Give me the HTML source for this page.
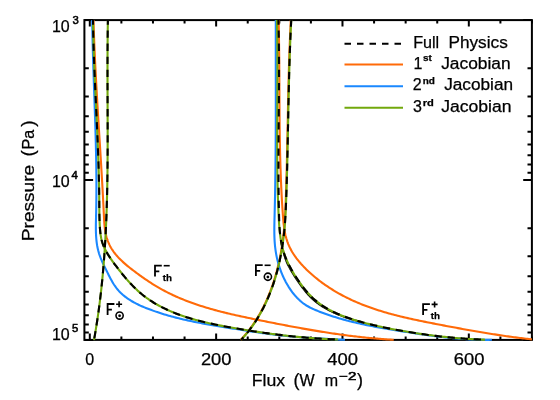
<!DOCTYPE html><html><head><meta charset="utf-8"><style>html,body{margin:0;padding:0;background:#fff}</style></head><body><svg width="560" height="400" viewBox="0 0 560 400" style="display:block;will-change:transform">
<rect width="560" height="400" fill="#fff"/>
<defs><clipPath id="c"><rect x="83.4" y="19.1" width="449.5" height="321.8"/></clipPath></defs>
<path d="M89.80,339.90v-6.5M89.80,20.10v6.5M121.38,339.90v-3.3M121.38,20.10v3.3M152.97,339.90v-3.3M152.97,20.10v3.3M184.56,339.90v-3.3M184.56,20.10v3.3M216.14,339.90v-6.5M216.14,20.10v6.5M247.73,339.90v-3.3M247.73,20.10v3.3M279.31,339.90v-3.3M279.31,20.10v3.3M310.90,339.90v-3.3M310.90,20.10v3.3M342.48,339.90v-6.5M342.48,20.10v6.5M374.07,339.90v-3.3M374.07,20.10v3.3M405.65,339.90v-3.3M405.65,20.10v3.3M437.24,339.90v-3.3M437.24,20.10v3.3M468.82,339.90v-6.5M468.82,20.10v6.5M500.41,339.90v-3.3M500.41,20.10v3.3M531.99,339.90v-3.3M531.99,20.10v3.3M84.40,20.10h8.7M531.90,20.10h-8.7M84.40,68.23h4.4M531.90,68.23h-4.4M84.40,96.39h4.4M531.90,96.39h-4.4M84.40,116.37h4.4M531.90,116.37h-4.4M84.40,131.87h4.4M531.90,131.87h-4.4M84.40,144.53h4.4M531.90,144.53h-4.4M84.40,155.23h4.4M531.90,155.23h-4.4M84.40,164.50h4.4M531.90,164.50h-4.4M84.40,172.68h4.4M531.90,172.68h-4.4M84.40,180.00h8.7M531.90,180.00h-8.7M84.40,228.13h4.4M531.90,228.13h-4.4M84.40,256.29h4.4M531.90,256.29h-4.4M84.40,276.27h4.4M531.90,276.27h-4.4M84.40,291.77h4.4M531.90,291.77h-4.4M84.40,304.43h4.4M531.90,304.43h-4.4M84.40,315.13h4.4M531.90,315.13h-4.4M84.40,324.40h4.4M531.90,324.40h-4.4M84.40,332.58h4.4M531.90,332.58h-4.4M84.40,339.90h8.7M531.90,339.90h-8.7" stroke="#000" stroke-width="2" fill="none"/>
<rect x="84.4" y="20.1" width="447.5" height="319.8" fill="none" stroke="#000" stroke-width="2"/>
<g clip-path="url(#c)" fill="none" stroke-width="2.1" stroke-linejoin="round">
<path d="M93.50,20.00 L93.54,21.50 L93.59,23.01 L93.63,24.51 L93.68,26.02 L93.73,27.52 L93.77,29.02 L93.82,30.52 L93.87,32.02 L93.93,33.53 L93.98,35.03 L94.03,36.53 L94.09,38.03 L94.15,39.53 L94.20,41.02 L94.26,42.52 L94.32,44.02 L94.38,45.52 L94.45,47.01 L94.51,48.51 L94.57,50.01 L94.64,51.50 L94.70,53.00 L94.77,54.50 L94.84,55.99 L94.90,57.48 L94.97,58.98 L95.04,60.47 L95.12,61.97 L95.19,63.46 L95.26,64.95 L95.33,66.45 L95.41,67.94 L95.48,69.43 L95.56,70.92 L95.64,72.42 L95.71,73.91 L95.79,75.40 L95.87,76.89 L95.95,78.38 L96.03,79.87 L96.11,81.36 L96.19,82.85 L96.27,84.34 L96.35,85.83 L96.44,87.32 L96.52,88.81 L96.61,90.30 L96.69,91.79 L96.77,93.28 L96.86,94.77 L96.95,96.26 L97.03,97.75 L97.12,99.24 L97.21,100.73 L97.30,102.22 L97.38,103.71 L97.47,105.20 L97.56,106.68 L97.65,108.17 L97.74,109.66 L97.83,111.15 L97.92,112.64 L98.01,114.13 L98.10,115.62 L98.19,117.11 L98.28,118.59 L98.37,120.08 L98.47,121.57 L98.56,123.06 L98.65,124.55 L98.74,126.04 L98.83,127.53 L98.93,129.02 L99.02,130.51 L99.11,132.00 L99.20,133.49 L99.30,134.98 L99.39,136.47 L99.48,137.96 L99.58,139.45 L99.67,140.94 L99.76,142.43 L99.85,143.92 L99.95,145.41 L100.04,146.90 L100.13,148.39 L100.22,149.88 L100.32,151.38 L100.41,152.87 L100.50,154.36 L100.59,155.85 L100.68,157.35 L100.77,158.84 L100.86,160.33 L100.95,161.83 L101.05,163.32 L101.14,164.81 L101.23,166.31 L101.31,167.80 L101.40,169.30 L101.49,170.79 L101.58,172.29 L101.67,173.79 L101.76,175.28 L101.85,176.78 L101.93,178.28 L102.02,179.77 L102.10,181.27 L102.19,182.77 L102.28,184.27 L102.36,185.77 L102.44,187.27 L102.53,188.77 L102.61,190.27 L102.69,191.77 L102.77,193.27 L102.86,194.78 L102.94,196.28 L103.02,197.78 L103.10,199.29 L103.17,200.79 L103.25,202.29 L103.33,203.80 L103.41,205.31 L103.48,206.81 L103.56,208.32 L103.63,209.83 L103.70,211.33 L103.78,212.84 L103.85,214.35 L103.92,215.86 L103.99,217.37 L104.07,218.88 L104.15,220.39 L104.24,221.89 L104.35,223.40 L104.47,224.89 L104.61,226.39 L104.78,227.87 L104.97,229.35 L105.19,230.83 L105.44,232.29 L105.73,233.75 L106.05,235.19 L106.42,236.62 L106.83,238.04 L107.28,239.45 L107.77,240.84 L108.31,242.21 L108.88,243.56 L109.50,244.89 L110.16,246.19 L110.86,247.47 L111.61,248.72 L112.39,249.95 L113.21,251.16 L114.06,252.34 L114.95,253.50 L115.87,254.65 L116.83,255.77 L117.81,256.87 L118.82,257.96 L119.85,259.02 L120.91,260.07 L121.99,261.11 L123.09,262.13 L124.21,263.14 L125.35,264.13 L126.50,265.11 L127.67,266.08 L128.85,267.04 L130.04,267.98 L131.24,268.92 L132.45,269.85 L133.66,270.78 L134.88,271.69 L136.10,272.60 L137.32,273.50 L138.55,274.40 L139.78,275.29 L141.01,276.17 L142.25,277.05 L143.48,277.92 L144.73,278.78 L145.97,279.63 L147.22,280.47 L148.47,281.31 L149.73,282.13 L150.99,282.95 L152.25,283.76 L153.52,284.55 L154.80,285.34 L156.08,286.12 L157.36,286.88 L158.65,287.63 L159.94,288.38 L161.24,289.11 L162.55,289.83 L163.86,290.53 L165.17,291.23 L166.49,291.92 L167.82,292.59 L169.14,293.25 L170.48,293.91 L171.82,294.55 L173.16,295.18 L174.51,295.81 L175.86,296.42 L177.22,297.02 L178.58,297.61 L179.95,298.20 L181.31,298.77 L182.69,299.33 L184.07,299.89 L185.45,300.44 L186.83,300.97 L188.22,301.50 L189.61,302.02 L191.01,302.54 L192.41,303.04 L193.81,303.54 L195.22,304.02 L196.63,304.51 L198.04,304.98 L199.46,305.44 L200.88,305.90 L202.30,306.35 L203.72,306.80 L205.15,307.24 L206.58,307.67 L208.01,308.09 L209.45,308.51 L210.88,308.93 L212.32,309.33 L213.77,309.73 L215.21,310.13 L216.66,310.52 L218.11,310.90 L219.56,311.28 L221.01,311.66 L222.46,312.03 L223.92,312.39 L225.38,312.75 L226.84,313.11 L228.30,313.46 L229.76,313.81 L231.22,314.15 L232.69,314.49 L234.15,314.83 L235.62,315.16 L237.09,315.49 L238.56,315.81 L240.03,316.14 L241.50,316.46 L242.97,316.78 L244.44,317.09 L245.91,317.40 L247.38,317.71 L248.86,318.02 L250.33,318.33 L251.80,318.64 L253.28,318.94 L254.75,319.24 L256.22,319.54 L257.70,319.84 L259.17,320.14 L260.64,320.44 L262.12,320.74 L263.59,321.03 L265.06,321.33 L266.53,321.62 L268.00,321.92 L269.48,322.21 L270.95,322.50 L272.42,322.79 L273.89,323.08 L275.36,323.37 L276.83,323.66 L278.30,323.95 L279.77,324.23 L281.24,324.52 L282.71,324.80 L284.18,325.08 L285.65,325.36 L287.12,325.64 L288.59,325.92 L290.06,326.20 L291.53,326.47 L292.99,326.75 L294.46,327.02 L295.93,327.29 L297.40,327.56 L298.87,327.83 L300.34,328.09 L301.81,328.35 L303.28,328.62 L304.75,328.88 L306.22,329.14 L307.69,329.39 L309.16,329.65 L310.63,329.90 L312.10,330.15 L313.57,330.40 L315.05,330.65 L316.52,330.89 L317.99,331.13 L319.46,331.37 L320.93,331.61 L322.41,331.85 L323.88,332.08 L325.35,332.31 L326.83,332.54 L328.30,332.77 L329.77,332.99 L331.25,333.21 L332.72,333.43 L334.20,333.65 L335.68,333.86 L337.15,334.07 L338.63,334.28 L340.11,334.49 L341.58,334.69 L343.06,334.89 L344.54,335.09 L346.02,335.28 L347.50,335.48 L348.98,335.67 L350.46,335.85 L351.95,336.03 L353.43,336.22 L354.91,336.39 L356.40,336.57 L357.88,336.74 L359.37,336.90 L360.85,337.07 L362.34,337.23 L363.83,337.39 L365.31,337.54 L366.80,337.69 L368.29,337.84 L369.78,337.99 L371.27,338.13 L372.77,338.26 L374.26,338.40 L375.75,338.53 L377.25,338.66 L378.74,338.78 L380.24,338.90 L381.74,339.01 L383.23,339.13 L384.73,339.23 L386.23,339.34 L387.74,339.44 L389.24,339.54 L390.74,339.63 L392.25,339.72 L393.75,339.80" stroke="#ff6a08"/>
<path d="M278.60,20.00 L278.64,21.50 L278.67,23.01 L278.70,24.51 L278.74,26.01 L278.77,27.52 L278.80,29.02 L278.83,30.52 L278.85,32.02 L278.88,33.53 L278.91,35.03 L278.93,36.53 L278.95,38.03 L278.98,39.53 L279.00,41.03 L279.02,42.53 L279.04,44.03 L279.06,45.53 L279.08,47.03 L279.10,48.53 L279.11,50.03 L279.13,51.53 L279.14,53.03 L279.16,54.53 L279.17,56.03 L279.19,57.53 L279.20,59.03 L279.21,60.53 L279.23,62.03 L279.24,63.52 L279.25,65.02 L279.26,66.52 L279.27,68.02 L279.28,69.52 L279.29,71.01 L279.30,72.51 L279.31,74.01 L279.32,75.51 L279.32,77.00 L279.33,78.50 L279.34,80.00 L279.35,81.50 L279.36,82.99 L279.37,84.49 L279.37,85.99 L279.38,87.48 L279.39,88.98 L279.40,90.48 L279.40,91.97 L279.41,93.47 L279.42,94.97 L279.43,96.46 L279.44,97.96 L279.44,99.46 L279.45,100.95 L279.46,102.45 L279.47,103.95 L279.48,105.44 L279.49,106.94 L279.50,108.43 L279.51,109.93 L279.52,111.43 L279.53,112.92 L279.54,114.42 L279.56,115.92 L279.57,117.41 L279.58,118.91 L279.60,120.41 L279.61,121.90 L279.63,123.40 L279.64,124.90 L279.66,126.39 L279.68,127.89 L279.69,129.39 L279.71,130.88 L279.73,132.38 L279.75,133.88 L279.77,135.37 L279.80,136.87 L279.82,138.37 L279.84,139.86 L279.87,141.36 L279.89,142.86 L279.92,144.36 L279.95,145.85 L279.98,147.35 L280.01,148.85 L280.04,150.35 L280.07,151.84 L280.11,153.34 L280.14,154.84 L280.18,156.34 L280.22,157.84 L280.26,159.34 L280.30,160.83 L280.34,162.33 L280.38,163.83 L280.42,165.33 L280.47,166.83 L280.52,168.33 L280.57,169.83 L280.62,171.33 L280.67,172.83 L280.72,174.33 L280.78,175.83 L280.83,177.33 L280.89,178.83 L280.95,180.33 L281.02,181.83 L281.08,183.33 L281.14,184.83 L281.21,186.34 L281.28,187.84 L281.35,189.34 L281.43,190.84 L281.50,192.34 L281.58,193.85 L281.66,195.35 L281.74,196.85 L281.82,198.36 L281.90,199.86 L281.99,201.36 L282.08,202.87 L282.17,204.37 L282.27,205.88 L282.36,207.38 L282.46,208.89 L282.56,210.39 L282.66,211.90 L282.77,213.41 L282.87,214.91 L282.98,216.42 L283.10,217.92 L283.22,219.43 L283.35,220.93 L283.49,222.43 L283.64,223.93 L283.81,225.42 L283.99,226.91 L284.20,228.39 L284.42,229.86 L284.67,231.33 L284.95,232.79 L285.25,234.24 L285.58,235.67 L285.95,237.10 L286.35,238.52 L286.78,239.92 L287.24,241.31 L287.74,242.69 L288.27,244.06 L288.84,245.41 L289.45,246.75 L290.09,248.07 L290.76,249.37 L291.47,250.66 L292.21,251.94 L292.98,253.20 L293.78,254.45 L294.60,255.68 L295.46,256.90 L296.34,258.11 L297.25,259.30 L298.18,260.47 L299.13,261.64 L300.11,262.78 L301.10,263.92 L302.12,265.04 L303.15,266.15 L304.20,267.25 L305.26,268.33 L306.34,269.40 L307.44,270.45 L308.54,271.50 L309.66,272.53 L310.78,273.54 L311.92,274.55 L313.07,275.54 L314.22,276.52 L315.39,277.49 L316.56,278.44 L317.74,279.38 L318.93,280.31 L320.13,281.23 L321.34,282.14 L322.56,283.03 L323.78,283.91 L325.01,284.78 L326.25,285.64 L327.50,286.48 L328.75,287.32 L330.01,288.14 L331.28,288.95 L332.56,289.75 L333.84,290.53 L335.12,291.31 L336.42,292.07 L337.72,292.82 L339.02,293.56 L340.34,294.29 L341.65,295.00 L342.97,295.71 L344.30,296.40 L345.63,297.08 L346.97,297.76 L348.31,298.42 L349.66,299.06 L351.01,299.70 L352.37,300.33 L353.73,300.94 L355.09,301.55 L356.46,302.15 L357.83,302.73 L359.20,303.31 L360.58,303.87 L361.97,304.43 L363.35,304.98 L364.74,305.51 L366.14,306.04 L367.54,306.56 L368.94,307.07 L370.34,307.57 L371.75,308.07 L373.16,308.55 L374.58,309.03 L375.99,309.50 L377.41,309.96 L378.84,310.41 L380.26,310.86 L381.69,311.30 L383.12,311.73 L384.56,312.15 L385.99,312.57 L387.43,312.98 L388.87,313.39 L390.32,313.79 L391.76,314.18 L393.21,314.57 L394.66,314.95 L396.11,315.32 L397.56,315.69 L399.02,316.06 L400.48,316.42 L401.94,316.77 L403.40,317.12 L404.86,317.47 L406.32,317.81 L407.79,318.14 L409.25,318.47 L410.72,318.80 L412.19,319.13 L413.66,319.45 L415.13,319.76 L416.60,320.08 L418.07,320.39 L419.54,320.70 L421.01,321.00 L422.49,321.30 L423.96,321.60 L425.44,321.90 L426.91,322.20 L428.39,322.49 L429.86,322.78 L431.34,323.07 L432.81,323.36 L434.29,323.65 L435.77,323.93 L437.24,324.22 L438.72,324.50 L440.19,324.79 L441.66,325.07 L443.14,325.35 L444.61,325.63 L446.09,325.91 L447.56,326.19 L449.03,326.47 L450.51,326.75 L451.98,327.02 L453.45,327.30 L454.93,327.57 L456.40,327.84 L457.87,328.12 L459.34,328.39 L460.82,328.65 L462.29,328.92 L463.76,329.19 L465.24,329.45 L466.71,329.72 L468.18,329.98 L469.66,330.24 L471.13,330.50 L472.60,330.76 L474.08,331.01 L475.55,331.27 L477.02,331.52 L478.50,331.77 L479.97,332.02 L481.45,332.27 L482.92,332.51 L484.40,332.76 L485.87,333.00 L487.35,333.24 L488.83,333.48 L490.30,333.71 L491.78,333.95 L493.26,334.18 L494.74,334.41 L496.22,334.64 L497.70,334.86 L499.18,335.09 L500.66,335.31 L502.14,335.53 L503.62,335.75 L505.10,335.96 L506.58,336.17 L508.07,336.38 L509.55,336.59 L511.03,336.80 L512.52,337.00 L514.01,337.20 L515.49,337.40 L516.98,337.59 L518.47,337.79 L519.96,337.98 L521.45,338.16 L522.94,338.35 L524.43,338.53 L525.92,338.71 L527.42,338.89 L528.91,339.06 L530.40,339.23 L531.90,339.40" stroke="#ff6a08"/>
<path d="M290.85,20.00 L290.77,21.49 L290.69,22.98 L290.62,24.47 L290.54,25.96 L290.47,27.46 L290.40,28.95 L290.33,30.44 L290.26,31.93 L290.19,33.42 L290.13,34.91 L290.06,36.41 L290.00,37.90 L289.93,39.39 L289.87,40.88 L289.81,42.38 L289.75,43.87 L289.70,45.36 L289.64,46.85 L289.58,48.35 L289.53,49.84 L289.47,51.33 L289.42,52.83 L289.37,54.32 L289.32,55.81 L289.27,57.31 L289.22,58.80 L289.17,60.29 L289.12,61.79 L289.08,63.28 L289.03,64.77 L288.99,66.27 L288.94,67.76 L288.90,69.25 L288.86,70.75 L288.81,72.24 L288.77,73.74 L288.73,75.23 L288.69,76.73 L288.66,78.22 L288.62,79.71 L288.58,81.21 L288.54,82.70 L288.51,84.20 L288.47,85.69 L288.43,87.19 L288.40,88.68 L288.37,90.18 L288.33,91.67 L288.30,93.17 L288.26,94.66 L288.23,96.15 L288.20,97.65 L288.17,99.14 L288.14,100.64 L288.11,102.13 L288.07,103.63 L288.04,105.12 L288.01,106.62 L287.98,108.11 L287.95,109.61 L287.92,111.10 L287.89,112.60 L287.86,114.09 L287.84,115.59 L287.81,117.08 L287.78,118.58 L287.75,120.07 L287.72,121.57 L287.69,123.06 L287.66,124.56 L287.63,126.05 L287.60,127.55 L287.58,129.04 L287.55,130.54 L287.52,132.03 L287.49,133.53 L287.46,135.02 L287.43,136.52 L287.40,138.01 L287.37,139.51 L287.34,141.00 L287.31,142.50 L287.28,143.99 L287.25,145.49 L287.22,146.98 L287.19,148.48 L287.15,149.97 L287.12,151.47 L287.09,152.96 L287.06,154.46 L287.02,155.95 L286.99,157.44 L286.96,158.94 L286.92,160.43 L286.89,161.93 L286.85,163.42 L286.81,164.92 L286.78,166.41 L286.74,167.90 L286.70,169.40 L286.66,170.89 L286.62,172.39 L286.58,173.88 L286.54,175.37 L286.50,176.87 L286.46,178.36 L286.42,179.85 L286.37,181.35 L286.33,182.84 L286.28,184.33 L286.24,185.83 L286.19,187.32 L286.14,188.81 L286.09,190.31 L286.04,191.80 L285.99,193.29 L285.94,194.78 L285.89,196.28 L285.83,197.77 L285.78,199.26 L285.72,200.75 L285.67,202.25 L285.61,203.74 L285.55,205.23 L285.49,206.72 L285.42,208.21 L285.35,209.70 L285.28,211.19 L285.21,212.68 L285.13,214.17 L285.05,215.66 L284.96,217.15 L284.87,218.64 L284.77,220.13 L284.67,221.62 L284.56,223.11 L284.45,224.59 L284.32,226.08 L284.20,227.57 L284.06,229.05 L283.92,230.54 L283.77,232.02 L283.61,233.50 L283.45,234.99 L283.28,236.47 L283.10,237.95 L282.91,239.43 L282.71,240.91 L282.51,242.39 L282.30,243.86 L282.08,245.34 L281.85,246.81 L281.62,248.29 L281.37,249.76 L281.12,251.23 L280.86,252.70 L280.59,254.17 L280.31,255.64 L280.02,257.10 L279.72,258.56 L279.42,260.03 L279.10,261.49 L278.78,262.95 L278.44,264.40 L278.10,265.86 L277.74,267.31 L277.38,268.77 L277.01,270.21 L276.63,271.66 L276.23,273.11 L275.83,274.55 L275.42,275.99 L275.00,277.43 L274.56,278.86 L274.12,280.29 L273.66,281.72 L273.20,283.14 L272.72,284.56 L272.24,285.97 L271.74,287.38 L271.23,288.79 L270.71,290.19 L270.18,291.59 L269.64,292.98 L269.09,294.37 L268.52,295.76 L267.95,297.13 L267.36,298.51 L266.76,299.87 L266.15,301.24 L265.53,302.59 L264.89,303.94 L264.24,305.29 L263.58,306.62 L262.91,307.95 L262.23,309.28 L261.53,310.59 L260.82,311.90 L260.10,313.21 L259.37,314.50 L258.62,315.79 L257.86,317.07 L257.09,318.35 L256.30,319.61 L255.50,320.87 L254.69,322.12 L253.87,323.36 L253.03,324.59 L252.17,325.81 L251.31,327.03 L250.43,328.23 L249.53,329.43 L248.63,330.61 L247.70,331.79 L246.77,332.96 L245.82,334.12 L244.85,335.26 L243.87,336.40 L242.88,337.53 L241.87,338.64 L240.85,339.75" stroke="#ff6a08"/>
<path d="M92.20,20.00 L92.22,21.50 L92.24,23.00 L92.26,24.50 L92.29,26.01 L92.31,27.51 L92.34,29.01 L92.37,30.51 L92.40,32.01 L92.43,33.51 L92.46,35.01 L92.49,36.51 L92.52,38.01 L92.56,39.51 L92.59,41.01 L92.63,42.51 L92.66,44.01 L92.70,45.51 L92.74,47.00 L92.78,48.50 L92.82,50.00 L92.86,51.50 L92.90,53.00 L92.95,54.50 L92.99,55.99 L93.03,57.49 L93.08,58.99 L93.12,60.49 L93.17,61.99 L93.22,63.48 L93.26,64.98 L93.31,66.48 L93.36,67.98 L93.41,69.47 L93.46,70.97 L93.51,72.47 L93.56,73.96 L93.61,75.46 L93.66,76.96 L93.71,78.45 L93.76,79.95 L93.81,81.45 L93.86,82.94 L93.91,84.44 L93.97,85.93 L94.02,87.43 L94.07,88.93 L94.12,90.42 L94.17,91.92 L94.23,93.42 L94.28,94.91 L94.33,96.41 L94.38,97.90 L94.44,99.40 L94.49,100.90 L94.54,102.39 L94.59,103.89 L94.64,105.38 L94.70,106.88 L94.75,108.37 L94.80,109.87 L94.85,111.37 L94.90,112.86 L94.95,114.36 L95.00,115.85 L95.05,117.35 L95.10,118.85 L95.15,120.34 L95.19,121.84 L95.24,123.33 L95.29,124.83 L95.33,126.33 L95.38,127.82 L95.42,129.32 L95.47,130.82 L95.51,132.31 L95.56,133.81 L95.60,135.30 L95.64,136.80 L95.68,138.30 L95.72,139.79 L95.76,141.29 L95.80,142.79 L95.84,144.29 L95.87,145.78 L95.91,147.28 L95.94,148.78 L95.98,150.27 L96.01,151.77 L96.04,153.27 L96.07,154.77 L96.10,156.26 L96.13,157.76 L96.16,159.26 L96.18,160.76 L96.21,162.26 L96.23,163.75 L96.25,165.25 L96.27,166.75 L96.29,168.25 L96.31,169.75 L96.33,171.25 L96.34,172.75 L96.36,174.25 L96.37,175.75 L96.38,177.25 L96.39,178.75 L96.40,180.25 L96.41,181.75 L96.41,183.25 L96.41,184.75 L96.42,186.25 L96.42,187.75 L96.41,189.25 L96.41,190.75 L96.41,192.25 L96.40,193.76 L96.39,195.26 L96.38,196.76 L96.37,198.26 L96.35,199.77 L96.34,201.27 L96.32,202.77 L96.30,204.28 L96.28,205.78 L96.25,207.28 L96.23,208.79 L96.20,210.29 L96.17,211.80 L96.14,213.30 L96.10,214.81 L96.06,216.31 L96.03,217.82 L95.99,219.32 L95.96,220.83 L95.92,222.33 L95.90,223.83 L95.88,225.33 L95.87,226.83 L95.87,228.33 L95.88,229.83 L95.91,231.32 L95.95,232.81 L96.01,234.29 L96.08,235.78 L96.18,237.26 L96.29,238.73 L96.43,240.20 L96.59,241.67 L96.78,243.13 L97.00,244.59 L97.24,246.04 L97.52,247.48 L97.83,248.92 L98.17,250.35 L98.55,251.78 L98.96,253.20 L99.41,254.61 L99.90,256.02 L100.42,257.42 L100.98,258.81 L101.56,260.20 L102.16,261.59 L102.79,262.97 L103.43,264.35 L104.09,265.73 L104.76,267.11 L105.44,268.49 L106.13,269.87 L106.81,271.26 L107.50,272.64 L108.19,274.02 L108.88,275.41 L109.58,276.78 L110.30,278.14 L111.02,279.50 L111.76,280.83 L112.52,282.15 L113.30,283.45 L114.11,284.72 L114.94,285.96 L115.80,287.17 L116.70,288.35 L117.63,289.50 L118.59,290.60 L119.58,291.68 L120.61,292.72 L121.67,293.72 L122.75,294.70 L123.87,295.65 L125.01,296.56 L126.17,297.45 L127.36,298.31 L128.57,299.14 L129.81,299.94 L131.06,300.73 L132.34,301.48 L133.63,302.22 L134.94,302.93 L136.26,303.62 L137.60,304.29 L138.95,304.94 L140.32,305.58 L141.69,306.19 L143.08,306.79 L144.47,307.38 L145.87,307.95 L147.28,308.51 L148.69,309.05 L150.11,309.59 L151.53,310.11 L152.95,310.62 L154.37,311.13 L155.79,311.62 L157.22,312.10 L158.65,312.58 L160.08,313.05 L161.51,313.50 L162.94,313.95 L164.38,314.39 L165.82,314.82 L167.26,315.24 L168.70,315.66 L170.14,316.06 L171.59,316.46 L173.03,316.85 L174.48,317.24 L175.93,317.61 L177.38,317.98 L178.83,318.35 L180.28,318.70 L181.74,319.05 L183.19,319.40 L184.65,319.73 L186.11,320.06 L187.57,320.39 L189.03,320.71 L190.49,321.02 L191.96,321.33 L193.42,321.64 L194.89,321.94 L196.35,322.23 L197.82,322.52 L199.29,322.81 L200.76,323.09 L202.23,323.37 L203.70,323.64 L205.17,323.91 L206.64,324.18 L208.12,324.44 L209.59,324.70 L211.06,324.96 L212.54,325.22 L214.02,325.47 L215.49,325.72 L216.97,325.96 L218.45,326.21 L219.93,326.45 L221.40,326.70 L222.88,326.94 L224.36,327.18 L225.84,327.41 L227.32,327.65 L228.80,327.89 L230.28,328.12 L231.76,328.36 L233.24,328.59 L234.72,328.83 L236.20,329.06 L237.68,329.30 L239.16,329.53 L240.65,329.76 L242.13,329.99 L243.61,330.23 L245.09,330.46 L246.57,330.68 L248.05,330.91 L249.54,331.14 L251.02,331.36 L252.50,331.59 L253.98,331.81 L255.47,332.03 L256.95,332.24 L258.44,332.46 L259.92,332.67 L261.40,332.88 L262.89,333.09 L264.37,333.30 L265.86,333.50 L267.34,333.70 L268.83,333.89 L270.32,334.09 L271.80,334.28 L273.29,334.47 L274.78,334.65 L276.26,334.83 L277.75,335.01 L279.24,335.18 L280.73,335.35 L282.22,335.52 L283.71,335.68 L285.20,335.83 L286.69,335.99 L288.18,336.13 L289.67,336.28 L291.16,336.42 L292.65,336.55 L294.14,336.69 L295.64,336.82 L297.13,336.94 L298.62,337.06 L300.12,337.18 L301.61,337.30 L303.10,337.41 L304.60,337.52 L306.09,337.63 L307.59,337.73 L309.08,337.83 L310.58,337.93 L312.07,338.03 L313.57,338.12 L315.07,338.21 L316.56,338.30 L318.06,338.39 L319.55,338.48 L321.05,338.56 L322.55,338.65 L324.04,338.73 L325.54,338.81 L327.04,338.89 L328.53,338.97 L330.03,339.05 L331.53,339.12 L333.02,339.20 L334.52,339.28 L336.02,339.35 L337.52,339.43 L339.01,339.50 L340.51,339.58 L342.01,339.65 L343.50,339.72 L345.00,339.80" stroke="#1a88ff"/>
<path d="M275.80,20.00 L275.80,21.49 L275.79,22.99 L275.79,24.48 L275.79,25.98 L275.78,27.47 L275.78,28.97 L275.78,30.46 L275.78,31.96 L275.78,33.46 L275.78,34.95 L275.77,36.45 L275.77,37.94 L275.77,39.44 L275.77,40.94 L275.77,42.43 L275.77,43.93 L275.77,45.43 L275.77,46.92 L275.77,48.42 L275.77,49.92 L275.77,51.41 L275.77,52.91 L275.77,54.41 L275.77,55.91 L275.78,57.40 L275.78,58.90 L275.78,60.40 L275.78,61.90 L275.78,63.40 L275.78,64.89 L275.78,66.39 L275.78,67.89 L275.78,69.39 L275.79,70.89 L275.79,72.39 L275.79,73.89 L275.79,75.38 L275.79,76.88 L275.79,78.38 L275.79,79.88 L275.79,81.38 L275.80,82.88 L275.80,84.38 L275.80,85.88 L275.80,87.38 L275.80,88.88 L275.80,90.38 L275.80,91.88 L275.80,93.38 L275.80,94.87 L275.80,96.37 L275.80,97.87 L275.80,99.37 L275.80,100.87 L275.80,102.37 L275.80,103.87 L275.80,105.37 L275.80,106.87 L275.79,108.37 L275.79,109.87 L275.79,111.37 L275.79,112.87 L275.79,114.37 L275.78,115.87 L275.78,117.37 L275.78,118.87 L275.78,120.37 L275.77,121.87 L275.77,123.37 L275.76,124.87 L275.76,126.37 L275.75,127.87 L275.75,129.37 L275.74,130.87 L275.74,132.37 L275.73,133.87 L275.72,135.37 L275.72,136.87 L275.71,138.37 L275.70,139.87 L275.69,141.37 L275.68,142.87 L275.68,144.37 L275.67,145.87 L275.66,147.36 L275.65,148.86 L275.63,150.36 L275.62,151.86 L275.61,153.36 L275.60,154.86 L275.59,156.36 L275.57,157.86 L275.56,159.36 L275.54,160.86 L275.53,162.35 L275.51,163.85 L275.50,165.35 L275.48,166.85 L275.46,168.35 L275.45,169.85 L275.43,171.34 L275.41,172.84 L275.39,174.34 L275.37,175.84 L275.35,177.34 L275.33,178.83 L275.31,180.33 L275.28,181.83 L275.26,183.33 L275.24,184.82 L275.21,186.32 L275.19,187.82 L275.16,189.31 L275.13,190.81 L275.11,192.31 L275.08,193.80 L275.05,195.30 L275.02,196.80 L274.99,198.29 L274.96,199.79 L274.93,201.28 L274.90,202.78 L274.86,204.28 L274.83,205.77 L274.79,207.27 L274.76,208.76 L274.72,210.26 L274.68,211.75 L274.65,213.25 L274.61,214.74 L274.57,216.23 L274.53,217.73 L274.49,219.22 L274.45,220.72 L274.42,222.21 L274.39,223.70 L274.36,225.19 L274.34,226.69 L274.33,228.18 L274.32,229.67 L274.32,231.16 L274.34,232.65 L274.36,234.14 L274.39,235.63 L274.44,237.11 L274.50,238.60 L274.57,240.09 L274.66,241.57 L274.77,243.06 L274.89,244.54 L275.03,246.03 L275.19,247.51 L275.37,248.99 L275.57,250.47 L275.79,251.95 L276.04,253.43 L276.31,254.90 L276.60,256.38 L276.91,257.85 L277.25,259.32 L277.61,260.78 L278.00,262.24 L278.40,263.70 L278.83,265.15 L279.28,266.59 L279.76,268.03 L280.26,269.46 L280.78,270.88 L281.32,272.29 L281.89,273.70 L282.48,275.09 L283.09,276.47 L283.73,277.84 L284.39,279.21 L285.07,280.55 L285.77,281.89 L286.50,283.21 L287.25,284.52 L288.02,285.82 L288.81,287.10 L289.63,288.36 L290.47,289.61 L291.33,290.84 L292.21,292.05 L293.12,293.24 L294.05,294.40 L295.01,295.55 L296.00,296.66 L297.01,297.75 L298.04,298.81 L299.11,299.84 L300.20,300.84 L301.32,301.80 L302.46,302.72 L303.64,303.61 L304.85,304.46 L306.09,305.26 L307.35,306.03 L308.65,306.75 L309.96,307.45 L311.30,308.11 L312.65,308.75 L314.02,309.36 L315.40,309.96 L316.79,310.54 L318.18,311.10 L319.58,311.65 L320.98,312.20 L322.38,312.73 L323.79,313.25 L325.20,313.77 L326.61,314.27 L328.02,314.77 L329.44,315.25 L330.86,315.73 L332.28,316.19 L333.71,316.65 L335.14,317.10 L336.57,317.55 L338.00,317.98 L339.44,318.40 L340.87,318.82 L342.31,319.23 L343.76,319.63 L345.20,320.03 L346.65,320.41 L348.09,320.79 L349.54,321.17 L351.00,321.53 L352.45,321.89 L353.91,322.25 L355.36,322.59 L356.82,322.94 L358.28,323.27 L359.74,323.60 L361.21,323.92 L362.67,324.24 L364.14,324.56 L365.61,324.86 L367.08,325.17 L368.55,325.46 L370.02,325.76 L371.49,326.05 L372.96,326.33 L374.44,326.61 L375.91,326.89 L377.39,327.16 L378.87,327.43 L380.34,327.70 L381.82,327.96 L383.30,328.22 L384.78,328.48 L386.26,328.73 L387.74,328.98 L389.22,329.23 L390.70,329.48 L392.19,329.72 L393.67,329.96 L395.15,330.20 L396.63,330.44 L398.11,330.68 L399.60,330.91 L401.08,331.15 L402.56,331.38 L404.04,331.62 L405.52,331.85 L407.00,332.08 L408.49,332.31 L409.97,332.54 L411.45,332.77 L412.93,332.99 L414.41,333.22 L415.89,333.44 L417.37,333.66 L418.85,333.88 L420.33,334.09 L421.81,334.31 L423.30,334.52 L424.78,334.73 L426.26,334.94 L427.74,335.14 L429.22,335.34 L430.70,335.54 L432.19,335.74 L433.67,335.93 L435.15,336.12 L436.63,336.31 L438.12,336.49 L439.60,336.67 L441.08,336.84 L442.57,337.02 L444.05,337.18 L445.54,337.35 L447.02,337.51 L448.51,337.66 L450.00,337.81 L451.48,337.96 L452.97,338.10 L454.46,338.24 L455.95,338.37 L457.44,338.50 L458.93,338.62 L460.42,338.74 L461.91,338.85 L463.40,338.96 L464.89,339.06 L466.39,339.15 L467.88,339.24 L469.37,339.33 L470.87,339.40 L472.37,339.48 L473.86,339.54 L475.36,339.60 L476.86,339.65 L478.36,339.70 L479.86,339.74 L481.36,339.77 L482.86,339.80 L484.37,339.81 L485.87,339.83 L487.38,339.83 L488.88,339.83 L490.39,339.82 L491.90,339.80" stroke="#1a88ff"/>
<path d="M93.00,20.00 L93.02,21.50 L93.04,23.00 L93.07,24.50 L93.09,26.00 L93.12,27.50 L93.15,29.00 L93.18,30.50 L93.21,32.00 L93.24,33.49 L93.28,34.99 L93.31,36.49 L93.35,37.99 L93.39,39.49 L93.43,40.99 L93.47,42.48 L93.52,43.98 L93.56,45.48 L93.60,46.98 L93.65,48.47 L93.70,49.97 L93.75,51.47 L93.80,52.96 L93.85,54.46 L93.90,55.96 L93.95,57.45 L94.01,58.95 L94.06,60.45 L94.12,61.94 L94.18,63.44 L94.24,64.93 L94.29,66.43 L94.35,67.92 L94.41,69.42 L94.47,70.92 L94.54,72.41 L94.60,73.91 L94.66,75.40 L94.73,76.90 L94.79,78.39 L94.85,79.89 L94.92,81.38 L94.99,82.88 L95.05,84.37 L95.12,85.87 L95.19,87.36 L95.25,88.86 L95.32,90.35 L95.39,91.85 L95.46,93.34 L95.53,94.84 L95.60,96.33 L95.67,97.82 L95.74,99.32 L95.81,100.81 L95.88,102.31 L95.95,103.80 L96.02,105.30 L96.09,106.79 L96.16,108.29 L96.23,109.78 L96.30,111.27 L96.37,112.77 L96.44,114.26 L96.51,115.76 L96.58,117.25 L96.65,118.75 L96.71,120.24 L96.78,121.74 L96.85,123.23 L96.92,124.72 L96.99,126.22 L97.05,127.71 L97.12,129.21 L97.19,130.70 L97.25,132.20 L97.32,133.69 L97.38,135.19 L97.45,136.68 L97.51,138.18 L97.58,139.67 L97.64,141.17 L97.70,142.66 L97.76,144.16 L97.82,145.65 L97.88,147.15 L97.94,148.65 L98.00,150.14 L98.06,151.64 L98.11,153.13 L98.17,154.63 L98.22,156.12 L98.27,157.62 L98.33,159.12 L98.38,160.61 L98.43,162.11 L98.48,163.61 L98.53,165.10 L98.57,166.60 L98.62,168.10 L98.66,169.59 L98.70,171.09 L98.75,172.59 L98.79,174.09 L98.83,175.58 L98.86,177.08 L98.90,178.58 L98.94,180.08 L98.97,181.58 L99.00,183.07 L99.03,184.57 L99.06,186.07 L99.09,187.57 L99.11,189.07 L99.14,190.57 L99.16,192.07 L99.18,193.57 L99.20,195.07 L99.22,196.57 L99.23,198.07 L99.24,199.57 L99.26,201.07 L99.27,202.57 L99.28,204.07 L99.29,205.57 L99.30,207.07 L99.31,208.57 L99.32,210.08 L99.34,211.58 L99.36,213.08 L99.39,214.58 L99.42,216.09 L99.46,217.59 L99.50,219.10 L99.55,220.60 L99.61,222.11 L99.68,223.61 L99.76,225.12 L99.84,226.62 L99.94,228.13 L100.06,229.64 L100.19,231.14 L100.34,232.64 L100.52,234.13 L100.73,235.61 L100.98,237.08 L101.27,238.54 L101.60,239.97 L101.98,241.39 L102.41,242.79 L102.89,244.17 L103.41,245.53 L103.97,246.88 L104.57,248.21 L105.21,249.53 L105.88,250.83 L106.58,252.12 L107.32,253.40 L108.08,254.67 L108.87,255.92 L109.68,257.17 L110.51,258.41 L111.36,259.64 L112.23,260.87 L113.11,262.08 L114.00,263.30 L114.91,264.51 L115.82,265.71 L116.74,266.92 L117.66,268.12 L118.58,269.32 L119.52,270.51 L120.45,271.70 L121.40,272.89 L122.35,274.07 L123.31,275.24 L124.27,276.40 L125.24,277.56 L126.23,278.71 L127.21,279.85 L128.21,280.98 L129.22,282.11 L130.24,283.22 L131.26,284.31 L132.30,285.40 L133.35,286.47 L134.41,287.53 L135.48,288.58 L136.57,289.61 L137.66,290.63 L138.77,291.62 L139.89,292.61 L141.03,293.57 L142.17,294.52 L143.34,295.45 L144.51,296.36 L145.70,297.25 L146.90,298.13 L148.12,298.98 L149.34,299.83 L150.58,300.65 L151.83,301.46 L153.09,302.25 L154.36,303.03 L155.64,303.79 L156.93,304.53 L158.23,305.26 L159.54,305.97 L160.86,306.67 L162.19,307.36 L163.53,308.03 L164.87,308.68 L166.22,309.32 L167.58,309.95 L168.94,310.56 L170.32,311.16 L171.70,311.75 L173.08,312.32 L174.47,312.88 L175.87,313.43 L177.27,313.97 L178.67,314.49 L180.08,315.01 L181.49,315.51 L182.91,316.00 L184.33,316.48 L185.75,316.94 L187.18,317.40 L188.61,317.85 L190.04,318.28 L191.47,318.71 L192.91,319.13 L194.35,319.53 L195.80,319.93 L197.24,320.32 L198.69,320.71 L200.14,321.08 L201.59,321.44 L203.05,321.80 L204.50,322.15 L205.96,322.50 L207.42,322.83 L208.88,323.16 L210.35,323.49 L211.81,323.80 L213.28,324.12 L214.75,324.42 L216.22,324.72 L217.69,325.02 L219.16,325.31 L220.63,325.60 L222.10,325.88 L223.58,326.16 L225.05,326.43 L226.53,326.71 L228.00,326.97 L229.48,327.24 L230.96,327.50 L232.43,327.77 L233.91,328.02 L235.39,328.28 L236.86,328.54 L238.34,328.79 L239.82,329.04 L241.30,329.29 L242.77,329.54 L244.25,329.78 L245.73,330.02 L247.21,330.26 L248.69,330.50 L250.17,330.73 L251.64,330.97 L253.12,331.20 L254.60,331.43 L256.08,331.65 L257.56,331.88 L259.04,332.10 L260.52,332.31 L262.00,332.53 L263.48,332.74 L264.97,332.95 L266.45,333.16 L267.93,333.37 L269.41,333.57 L270.89,333.77 L272.38,333.97 L273.86,334.16 L275.34,334.35 L276.83,334.54 L278.31,334.73 L279.79,334.91 L281.28,335.09 L282.76,335.27 L284.25,335.44 L285.73,335.61 L287.22,335.78 L288.71,335.95 L290.19,336.11 L291.68,336.27 L293.17,336.42 L294.65,336.58 L296.14,336.73 L297.63,336.87 L299.12,337.02 L300.61,337.16 L302.10,337.29 L303.59,337.42 L305.08,337.55 L306.57,337.68 L308.06,337.80 L309.56,337.92 L311.05,338.04 L312.54,338.15 L314.03,338.26 L315.53,338.37 L317.02,338.47 L318.52,338.57 L320.01,338.66 L321.51,338.75 L323.01,338.84 L324.50,338.92 L326.00,339.00 L327.50,339.08 L329.00,339.15 L330.50,339.22 L332.00,339.28 L333.50,339.34 L335.00,339.40 L336.50,339.45 L338.00,339.50" stroke="#72a80c"/>
<path d="M93.00,20.00 L93.02,21.50 L93.04,23.00 L93.07,24.50 L93.09,26.00 L93.12,27.50 L93.15,29.00 L93.18,30.50 L93.21,32.00 L93.24,33.49 L93.28,34.99 L93.31,36.49 L93.35,37.99 L93.39,39.49 L93.43,40.99 L93.47,42.48 L93.52,43.98 L93.56,45.48 L93.60,46.98 L93.65,48.47 L93.70,49.97 L93.75,51.47 L93.80,52.96 L93.85,54.46 L93.90,55.96 L93.95,57.45 L94.01,58.95 L94.06,60.45 L94.12,61.94 L94.18,63.44 L94.24,64.93 L94.29,66.43 L94.35,67.92 L94.41,69.42 L94.47,70.92 L94.54,72.41 L94.60,73.91 L94.66,75.40 L94.73,76.90 L94.79,78.39 L94.85,79.89 L94.92,81.38 L94.99,82.88 L95.05,84.37 L95.12,85.87 L95.19,87.36 L95.25,88.86 L95.32,90.35 L95.39,91.85 L95.46,93.34 L95.53,94.84 L95.60,96.33 L95.67,97.82 L95.74,99.32 L95.81,100.81 L95.88,102.31 L95.95,103.80 L96.02,105.30 L96.09,106.79 L96.16,108.29 L96.23,109.78 L96.30,111.27 L96.37,112.77 L96.44,114.26 L96.51,115.76 L96.58,117.25 L96.65,118.75 L96.71,120.24 L96.78,121.74 L96.85,123.23 L96.92,124.72 L96.99,126.22 L97.05,127.71 L97.12,129.21 L97.19,130.70 L97.25,132.20 L97.32,133.69 L97.38,135.19 L97.45,136.68 L97.51,138.18 L97.58,139.67 L97.64,141.17 L97.70,142.66 L97.76,144.16 L97.82,145.65 L97.88,147.15 L97.94,148.65 L98.00,150.14 L98.06,151.64 L98.11,153.13 L98.17,154.63 L98.22,156.12 L98.27,157.62 L98.33,159.12 L98.38,160.61 L98.43,162.11 L98.48,163.61 L98.53,165.10 L98.57,166.60 L98.62,168.10 L98.66,169.59 L98.70,171.09 L98.75,172.59 L98.79,174.09 L98.83,175.58 L98.86,177.08 L98.90,178.58 L98.94,180.08 L98.97,181.58 L99.00,183.07 L99.03,184.57 L99.06,186.07 L99.09,187.57 L99.11,189.07 L99.14,190.57 L99.16,192.07 L99.18,193.57 L99.20,195.07 L99.22,196.57 L99.23,198.07 L99.24,199.57 L99.26,201.07 L99.27,202.57 L99.28,204.07 L99.29,205.57 L99.30,207.07 L99.31,208.57 L99.32,210.08 L99.34,211.58 L99.36,213.08 L99.39,214.58 L99.42,216.09 L99.46,217.59 L99.50,219.10 L99.55,220.60 L99.61,222.11 L99.68,223.61 L99.76,225.12 L99.84,226.62 L99.94,228.13 L100.06,229.64 L100.19,231.14 L100.34,232.64 L100.52,234.13 L100.73,235.61 L100.98,237.08 L101.27,238.54 L101.60,239.97 L101.98,241.39 L102.41,242.79 L102.89,244.17 L103.41,245.53 L103.97,246.88 L104.57,248.21 L105.21,249.53 L105.88,250.83 L106.58,252.12 L107.32,253.40 L108.08,254.67 L108.87,255.92 L109.68,257.17 L110.51,258.41 L111.36,259.64 L112.23,260.87 L113.11,262.08 L114.00,263.30 L114.91,264.51 L115.82,265.71 L116.74,266.92 L117.66,268.12 L118.58,269.32 L119.52,270.51 L120.45,271.70 L121.40,272.89 L122.35,274.07 L123.31,275.24 L124.27,276.40 L125.24,277.56 L126.23,278.71 L127.21,279.85 L128.21,280.98 L129.22,282.11 L130.24,283.22 L131.26,284.31 L132.30,285.40 L133.35,286.47 L134.41,287.53 L135.48,288.58 L136.57,289.61 L137.66,290.63 L138.77,291.62 L139.89,292.61 L141.03,293.57 L142.17,294.52 L143.34,295.45 L144.51,296.36 L145.70,297.25 L146.90,298.13 L148.12,298.98 L149.34,299.83 L150.58,300.65 L151.83,301.46 L153.09,302.25 L154.36,303.03 L155.64,303.79 L156.93,304.53 L158.23,305.26 L159.54,305.97 L160.86,306.67 L162.19,307.36 L163.53,308.03 L164.87,308.68 L166.22,309.32 L167.58,309.95 L168.94,310.56 L170.32,311.16 L171.70,311.75 L173.08,312.32 L174.47,312.88 L175.87,313.43 L177.27,313.97 L178.67,314.49 L180.08,315.01 L181.49,315.51 L182.91,316.00 L184.33,316.48 L185.75,316.94 L187.18,317.40 L188.61,317.85 L190.04,318.28 L191.47,318.71 L192.91,319.13 L194.35,319.53 L195.80,319.93 L197.24,320.32 L198.69,320.71 L200.14,321.08 L201.59,321.44 L203.05,321.80 L204.50,322.15 L205.96,322.50 L207.42,322.83 L208.88,323.16 L210.35,323.49 L211.81,323.80 L213.28,324.12 L214.75,324.42 L216.22,324.72 L217.69,325.02 L219.16,325.31 L220.63,325.60 L222.10,325.88 L223.58,326.16 L225.05,326.43 L226.53,326.71 L228.00,326.97 L229.48,327.24 L230.96,327.50 L232.43,327.77 L233.91,328.02 L235.39,328.28 L236.86,328.54 L238.34,328.79 L239.82,329.04 L241.30,329.29 L242.77,329.54 L244.25,329.78 L245.73,330.02 L247.21,330.26 L248.69,330.50 L250.17,330.73 L251.64,330.97 L253.12,331.20 L254.60,331.43 L256.08,331.65 L257.56,331.88 L259.04,332.10 L260.52,332.31 L262.00,332.53 L263.48,332.74 L264.97,332.95 L266.45,333.16 L267.93,333.37 L269.41,333.57 L270.89,333.77 L272.38,333.97 L273.86,334.16 L275.34,334.35 L276.83,334.54 L278.31,334.73 L279.79,334.91 L281.28,335.09 L282.76,335.27 L284.25,335.44 L285.73,335.61 L287.22,335.78 L288.71,335.95 L290.19,336.11 L291.68,336.27 L293.17,336.42 L294.65,336.58 L296.14,336.73 L297.63,336.87 L299.12,337.02 L300.61,337.16 L302.10,337.29 L303.59,337.42 L305.08,337.55 L306.57,337.68 L308.06,337.80 L309.56,337.92 L311.05,338.04 L312.54,338.15 L314.03,338.26 L315.53,338.37 L317.02,338.47 L318.52,338.57 L320.01,338.66 L321.51,338.75 L323.01,338.84 L324.50,338.92 L326.00,339.00 L327.50,339.08 L329.00,339.15 L330.50,339.22 L332.00,339.28 L333.50,339.34 L335.00,339.40 L336.50,339.45 L338.00,339.50" stroke="#000" stroke-dasharray="7.3 5.8" stroke-dashoffset="2.6"/>
<path d="M282.66,248.79 L283.04,250.22 L283.37,251.67 L283.72,253.12 L284.11,254.56 L284.53,256.01 L284.98,257.44 L285.46,258.87 L285.97,260.30 L286.50,261.72 L287.11,263.12 L287.78,264.48 L288.47,265.84 L289.18,267.19 L289.91,268.53 L290.66,269.87 L291.43,271.19 L292.21,272.51 L293.00,273.81 L293.81,275.11 L294.63,276.40 L295.47,277.68 L296.31,278.96 L297.16,280.22 L298.02,281.47 L298.89,282.72 L299.76,283.96 L300.64,285.19 L301.53,286.40 L302.42,287.61 L303.33,288.81 L304.25,289.99 L305.19,291.16 L306.14,292.31 L307.12,293.45 L308.11,294.57 L309.12,295.67 L310.16,296.75 L311.22,297.80 L312.31,298.83 L313.42,299.84 L314.56,300.82 L315.72,301.78 L316.90,302.72 L318.09,303.63 L319.31,304.52 L320.54,305.38 L321.78,306.23 L323.05,307.03 L324.34,307.80 L325.65,308.54 L326.96,309.26 L328.29,309.96 L329.62,310.65 L330.97,311.31 L332.32,311.96 L333.68,312.59 L335.06,313.20 L336.44,313.80 L337.82,314.38 L339.22,314.94 L340.62,315.49 L342.03,316.02 L343.45,316.55 L344.87,317.05 L346.29,317.55 L347.73,318.03 L349.16,318.50 L350.60,318.95 L352.05,319.40 L353.50,319.83 L354.95,320.26 L356.40,320.67 L357.86,321.08 L359.31,321.48 L360.77,321.86 L362.23,322.26" stroke="#000" stroke-width="1.8"/>
<path d="M276.90,20.00 L276.94,21.50 L276.97,23.00 L277.00,24.50 L277.04,26.00 L277.07,27.50 L277.09,29.00 L277.12,30.50 L277.15,32.00 L277.17,33.49 L277.19,34.99 L277.22,36.49 L277.24,37.99 L277.26,39.49 L277.27,40.99 L277.29,42.49 L277.31,43.99 L277.32,45.48 L277.33,46.98 L277.35,48.48 L277.36,49.98 L277.37,51.48 L277.38,52.98 L277.38,54.47 L277.39,55.97 L277.40,57.47 L277.40,58.97 L277.41,60.47 L277.41,61.96 L277.41,63.46 L277.42,64.96 L277.42,66.46 L277.42,67.96 L277.42,69.45 L277.42,70.95 L277.42,72.45 L277.41,73.95 L277.41,75.44 L277.41,76.94 L277.40,78.44 L277.40,79.94 L277.40,81.43 L277.39,82.93 L277.38,84.43 L277.38,85.92 L277.37,87.42 L277.37,88.92 L277.36,90.42 L277.35,91.91 L277.35,93.41 L277.34,94.91 L277.33,96.40 L277.32,97.90 L277.31,99.40 L277.31,100.90 L277.30,102.39 L277.29,103.89 L277.28,105.39 L277.27,106.88 L277.27,108.38 L277.26,109.88 L277.25,111.37 L277.24,112.87 L277.24,114.37 L277.23,115.87 L277.22,117.36 L277.21,118.86 L277.21,120.36 L277.20,121.85 L277.20,123.35 L277.19,124.85 L277.18,126.34 L277.18,127.84 L277.18,129.34 L277.17,130.84 L277.17,132.33 L277.17,133.83 L277.16,135.33 L277.16,136.82 L277.16,138.32 L277.16,139.82 L277.16,141.32 L277.16,142.81 L277.16,144.31 L277.17,145.81 L277.17,147.31 L277.17,148.80 L277.18,150.30 L277.18,151.80 L277.19,153.30 L277.20,154.79 L277.21,156.29 L277.22,157.79 L277.23,159.29 L277.24,160.78 L277.25,162.28 L277.26,163.78 L277.28,165.28 L277.30,166.77 L277.31,168.27 L277.33,169.77 L277.35,171.27 L277.37,172.77 L277.39,174.27 L277.42,175.76 L277.44,177.26 L277.47,178.76 L277.50,180.26 L277.53,181.76 L277.56,183.26 L277.59,184.75 L277.62,186.25 L277.66,187.75 L277.70,189.25 L277.73,190.75 L277.77,192.25 L277.82,193.75 L277.86,195.25 L277.91,196.75 L277.95,198.25 L278.00,199.75 L278.05,201.24 L278.10,202.74 L278.16,204.24 L278.22,205.74 L278.27,207.24 L278.33,208.74 L278.40,210.24 L278.46,211.74 L278.53,213.24 L278.59,214.74 L278.66,216.25 L278.74,217.75 L278.82,219.25 L278.90,220.74 L278.99,222.24 L279.08,223.74 L279.18,225.24 L279.30,226.73 L279.42,228.22 L279.55,229.71 L279.70,231.20 L279.86,232.68 L280.03,234.17 L280.22,235.64 L280.42,237.12 L280.64,238.59 L280.88,240.06 L281.14,241.52 L281.42,242.97 L281.72,244.43 L282.04,245.87 L282.38,247.32 L282.75,248.75 L283.15,250.18 L283.57,251.61 L284.02,253.02 L284.49,254.44 L285.00,255.84 L285.52,257.24 L286.08,258.63 L286.66,260.01 L287.26,261.38 L287.88,262.75 L288.53,264.11 L289.20,265.46 L289.88,266.81 L290.59,268.14 L291.32,269.47 L292.06,270.79 L292.82,272.10 L293.60,273.40 L294.40,274.69 L295.20,275.98 L296.03,277.25 L296.86,278.52 L297.71,279.77 L298.57,281.02 L299.45,282.26 L300.33,283.48 L301.22,284.70 L302.12,285.91 L303.04,287.10 L303.96,288.28 L304.90,289.45 L305.86,290.60 L306.83,291.73 L307.81,292.85 L308.81,293.95 L309.83,295.03 L310.87,296.09 L311.92,297.14 L313.00,298.15 L314.09,299.15 L315.21,300.13 L316.34,301.08 L317.49,302.01 L318.66,302.92 L319.84,303.80 L321.05,304.66 L322.26,305.50 L323.50,306.32 L324.74,307.12 L326.01,307.89 L327.28,308.65 L328.57,309.38 L329.88,310.10 L331.19,310.79 L332.52,311.47 L333.86,312.13 L335.21,312.77 L336.57,313.39 L337.94,314.00 L339.32,314.59 L340.71,315.17 L342.10,315.73 L343.51,316.27 L344.92,316.80 L346.33,317.32 L347.76,317.83 L349.19,318.32 L350.62,318.80 L352.06,319.27 L353.51,319.72 L354.95,320.17 L356.41,320.60 L357.86,321.03 L359.31,321.45 L360.77,321.85 L362.23,322.25 L363.69,322.65 L365.15,323.03 L366.60,323.41 L368.06,323.78 L369.52,324.14 L370.98,324.50 L372.43,324.85 L373.89,325.20 L375.35,325.54 L376.80,325.87 L378.26,326.20 L379.72,326.53 L381.18,326.84 L382.63,327.16 L384.09,327.46 L385.55,327.77 L387.01,328.07 L388.47,328.36 L389.93,328.65 L391.39,328.93 L392.85,329.21 L394.31,329.49 L395.78,329.76 L397.24,330.03 L398.71,330.30 L400.18,330.56 L401.64,330.82 L403.11,331.08 L404.58,331.33 L406.05,331.58 L407.53,331.83 L409.00,332.07 L410.48,332.31 L411.95,332.55 L413.43,332.78 L414.91,333.01 L416.39,333.24 L417.87,333.46 L419.35,333.69 L420.84,333.90 L422.32,334.12 L423.80,334.33 L425.29,334.54 L426.78,334.74 L428.26,334.94 L429.75,335.14 L431.24,335.33 L432.73,335.52 L434.22,335.71 L435.71,335.89 L437.20,336.07 L438.69,336.25 L440.18,336.42 L441.67,336.59 L443.17,336.75 L444.66,336.91 L446.15,337.07 L447.65,337.22 L449.14,337.37 L450.64,337.52 L452.13,337.66 L453.63,337.79 L455.12,337.93 L456.62,338.06 L458.11,338.18 L459.61,338.30 L461.10,338.42 L462.60,338.53 L464.09,338.64 L465.59,338.74 L467.08,338.84 L468.58,338.94 L470.07,339.03 L471.57,339.12 L473.06,339.20 L474.55,339.28 L476.05,339.35 L477.54,339.42 L479.03,339.49 L480.53,339.55 L482.02,339.60 L483.51,339.65 L485.00,339.70" stroke="#72a80c"/>
<path d="M278.40,20.00 L278.44,21.50 L278.48,23.00 L278.52,24.50 L278.55,26.01 L278.59,27.51 L278.62,29.01 L278.65,30.51 L278.68,32.01 L278.71,33.51 L278.74,35.01 L278.77,36.51 L278.79,38.01 L278.81,39.51 L278.84,41.01 L278.86,42.51 L278.87,44.01 L278.89,45.51 L278.91,47.01 L278.92,48.50 L278.94,50.00 L278.95,51.50 L278.96,53.00 L278.97,54.50 L278.98,56.00 L278.99,57.50 L279.00,58.99 L279.01,60.49 L279.01,61.99 L279.02,63.49 L279.02,64.98 L279.02,66.48 L279.02,67.98 L279.03,69.48 L279.03,70.97 L279.02,72.47 L279.02,73.97 L279.02,75.46 L279.02,76.96 L279.01,78.46 L279.01,79.95 L279.01,81.45 L279.00,82.95 L278.99,84.44 L278.99,85.94 L278.98,87.44 L278.97,88.93 L278.96,90.43 L278.95,91.93 L278.94,93.42 L278.93,94.92 L278.92,96.41 L278.91,97.91 L278.90,99.41 L278.89,100.90 L278.88,102.40 L278.87,103.89 L278.86,105.39 L278.84,106.89 L278.83,108.38 L278.82,109.88 L278.81,111.37 L278.79,112.87 L278.78,114.37 L278.77,115.86 L278.75,117.36 L278.74,118.85 L278.73,120.35 L278.71,121.84 L278.70,123.34 L278.69,124.84 L278.68,126.33 L278.66,127.83 L278.65,129.32 L278.64,130.82 L278.63,132.32 L278.61,133.81 L278.60,135.31 L278.59,136.80 L278.58,138.30 L278.57,139.80 L278.56,141.29 L278.55,142.79 L278.54,144.29 L278.53,145.78 L278.52,147.28 L278.51,148.78 L278.51,150.27 L278.50,151.77 L278.49,153.27 L278.49,154.76 L278.48,156.26 L278.48,157.76 L278.47,159.26 L278.47,160.75 L278.47,162.25 L278.47,163.75 L278.46,165.25 L278.46,166.74 L278.46,168.24 L278.47,169.74 L278.47,171.24 L278.47,172.74 L278.48,174.23 L278.48,175.73 L278.49,177.23 L278.49,178.73 L278.50,180.23 L278.51,181.73 L278.52,183.23 L278.53,184.73 L278.55,186.22 L278.56,187.72 L278.57,189.22 L278.59,190.72 L278.61,192.22 L278.63,193.72 L278.65,195.22 L278.67,196.72 L278.69,198.23 L278.71,199.73 L278.74,201.23 L278.76,202.73 L278.79,204.23 L278.82,205.73 L278.85,207.23 L278.89,208.73 L278.92,210.24 L278.96,211.74 L278.99,213.24 L279.03,214.74 L279.07,216.25 L279.12,217.75 L279.16,219.25 L279.21,220.75 L279.27,222.26 L279.34,223.76 L279.41,225.25 L279.49,226.75 L279.59,228.25 L279.69,229.74 L279.81,231.23 L279.94,232.71 L280.09,234.20 L280.26,235.68 L280.44,237.15 L280.64,238.62 L280.86,240.09 L281.10,241.55 L281.36,243.01 L281.65,244.46 L281.96,245.91 L282.30,247.35 L282.66,248.79 L283.06,250.22 L283.48,251.64 L283.93,253.05 L284.41,254.46 L284.92,255.86 L285.46,257.25 L286.03,258.64 L286.62,260.01 L287.24,261.39 L287.88,262.75 L288.54,264.10 L289.23,265.45 L289.93,266.79 L290.66,268.12 L291.40,269.45 L292.16,270.76 L292.94,272.07 L293.73,273.37 L294.53,274.66 L295.35,275.94 L296.18,277.22 L297.02,278.48 L297.87,279.74 L298.72,280.99 L299.58,282.23 L300.45,283.46 L301.33,284.69 L302.21,285.90 L303.10,287.10 L304.01,288.29 L304.92,289.47 L305.85,290.62 L306.80,291.77 L307.76,292.89 L308.74,294.00 L309.74,295.09 L310.77,296.15 L311.81,297.19 L312.89,298.21 L313.99,299.20 L315.11,300.18 L316.26,301.12 L317.42,302.05 L318.60,302.95 L319.80,303.83 L321.02,304.68 L322.25,305.52 L323.50,306.33 L324.76,307.12 L326.03,307.90 L327.31,308.65 L328.61,309.38 L329.92,310.09 L331.24,310.78 L332.57,311.46 L333.91,312.12 L335.26,312.76 L336.62,313.38 L337.99,313.99 L339.37,314.58 L340.76,315.15 L342.15,315.71 L343.56,316.26 L344.96,316.79 L346.38,317.31 L347.80,317.82 L349.23,318.31 L350.66,318.79 L352.09,319.26 L353.53,319.72 L354.97,320.17 L356.42,320.60 L357.87,321.03 L359.32,321.45 L360.77,321.86 L362.23,322.26 L363.68,322.65 L365.14,323.04 L366.60,323.41 L368.05,323.79 L369.51,324.15 L370.96,324.51 L372.42,324.86 L373.88,325.21 L375.33,325.55 L376.79,325.88 L378.25,326.21 L379.70,326.53 L381.16,326.85 L382.62,327.16 L384.08,327.47 L385.54,327.77 L387.00,328.07 L388.46,328.36 L389.92,328.65 L391.39,328.94 L392.85,329.22 L394.31,329.49 L395.78,329.77 L397.25,330.03 L398.71,330.30 L400.18,330.56 L401.65,330.82 L403.12,331.08 L404.59,331.33 L406.07,331.58 L407.54,331.82 L409.01,332.07 L410.49,332.31 L411.97,332.55 L413.45,332.78 L414.92,333.01 L416.40,333.24 L417.89,333.46 L419.37,333.68 L420.85,333.90 L422.33,334.12 L423.82,334.33 L425.30,334.54 L426.79,334.74 L428.27,334.94 L429.76,335.14 L431.25,335.33 L432.74,335.52 L434.23,335.71 L435.72,335.89 L437.21,336.07 L438.70,336.25 L440.19,336.42 L441.68,336.59 L443.17,336.75 L444.66,336.91 L446.16,337.07 L447.65,337.22 L449.14,337.37 L450.64,337.52 L452.13,337.66 L453.62,337.79 L455.12,337.93 L456.61,338.06 L458.11,338.18 L459.60,338.30 L461.10,338.42 L462.59,338.53 L464.09,338.64 L465.58,338.74 L467.08,338.84 L468.57,338.94 L470.07,339.03 L471.56,339.12 L473.05,339.20 L474.55,339.28 L476.04,339.35 L477.54,339.42 L479.03,339.49 L480.52,339.55 L482.02,339.60 L483.51,339.65 L485.00,339.70" stroke="#000" stroke-dasharray="7.3 5.8" stroke-dashoffset="2.6"/>
<path d="M107.90,20.00 L107.87,21.49 L107.85,22.99 L107.82,24.48 L107.80,25.98 L107.77,27.47 L107.75,28.97 L107.73,30.46 L107.71,31.96 L107.69,33.46 L107.68,34.95 L107.66,36.45 L107.64,37.94 L107.63,39.44 L107.62,40.94 L107.60,42.43 L107.59,43.93 L107.58,45.43 L107.57,46.92 L107.56,48.42 L107.55,49.92 L107.54,51.42 L107.54,52.91 L107.53,54.41 L107.52,55.91 L107.52,57.41 L107.51,58.90 L107.51,60.40 L107.51,61.90 L107.50,63.40 L107.50,64.90 L107.50,66.39 L107.50,67.89 L107.50,69.39 L107.50,70.89 L107.50,72.39 L107.50,73.89 L107.50,75.39 L107.50,76.89 L107.51,78.39 L107.51,79.88 L107.51,81.38 L107.51,82.88 L107.52,84.38 L107.52,85.88 L107.53,87.38 L107.53,88.88 L107.53,90.38 L107.54,91.88 L107.54,93.38 L107.55,94.88 L107.55,96.38 L107.56,97.88 L107.56,99.38 L107.57,100.88 L107.57,102.38 L107.58,103.88 L107.59,105.38 L107.59,106.88 L107.60,108.38 L107.60,109.88 L107.61,111.38 L107.61,112.88 L107.62,114.38 L107.62,115.88 L107.62,117.39 L107.63,118.89 L107.63,120.39 L107.64,121.89 L107.64,123.39 L107.64,124.89 L107.65,126.39 L107.65,127.89 L107.65,129.39 L107.65,130.89 L107.65,132.39 L107.65,133.89 L107.65,135.39 L107.65,136.89 L107.65,138.39 L107.65,139.89 L107.65,141.40 L107.65,142.90 L107.65,144.40 L107.64,145.90 L107.64,147.40 L107.64,148.90 L107.63,150.40 L107.62,151.90 L107.62,153.40 L107.61,154.90 L107.60,156.40 L107.59,157.90 L107.58,159.40 L107.57,160.90 L107.56,162.40 L107.55,163.90 L107.54,165.40 L107.52,166.90 L107.51,168.40 L107.49,169.90 L107.48,171.40 L107.46,172.90 L107.44,174.40 L107.42,175.90 L107.40,177.40 L107.38,178.90 L107.35,180.40 L107.33,181.90 L107.31,183.40 L107.28,184.90 L107.25,186.40 L107.22,187.90 L107.19,189.40 L107.16,190.90 L107.13,192.40 L107.09,193.89 L107.06,195.39 L107.02,196.89 L106.99,198.39 L106.95,199.89 L106.91,201.39 L106.86,202.89 L106.82,204.38 L106.77,205.88 L106.73,207.38 L106.68,208.88 L106.63,210.38 L106.58,211.87 L106.53,213.37 L106.47,214.87 L106.42,216.37 L106.36,217.86 L106.30,219.36 L106.24,220.86 L106.18,222.35 L106.11,223.85 L106.05,225.35 L105.98,226.84 L105.91,228.34 L105.84,229.83 L105.77,231.33 L105.69,232.83 L105.61,234.32 L105.53,235.82 L105.45,237.31 L105.37,238.81 L105.29,240.30 L105.20,241.80 L105.11,243.29 L105.02,244.79 L104.93,246.28 L104.83,247.78 L104.74,249.27 L104.64,250.76 L104.54,252.26 L104.43,253.75 L104.33,255.24 L104.22,256.74 L104.11,258.23 L104.00,259.72 L103.88,261.22 L103.77,262.71 L103.65,264.20 L103.53,265.69 L103.40,267.19 L103.28,268.68 L103.15,270.17 L103.02,271.66 L102.88,273.15 L102.75,274.64 L102.61,276.13 L102.47,277.62 L102.32,279.11 L102.18,280.60 L102.03,282.09 L101.88,283.58 L101.72,285.07 L101.57,286.56 L101.41,288.05 L101.25,289.54 L101.08,291.03 L100.92,292.51 L100.75,294.00 L100.57,295.49 L100.40,296.98 L100.22,298.47 L100.04,299.95 L99.85,301.44 L99.67,302.93 L99.48,304.41 L99.29,305.90 L99.09,307.38 L98.89,308.87 L98.69,310.35 L98.49,311.84 L98.28,313.32 L98.07,314.81 L97.85,316.29 L97.64,317.78 L97.42,319.26 L97.19,320.74 L96.97,322.23 L96.74,323.71 L96.51,325.19 L96.27,326.67 L96.03,328.16 L95.79,329.64 L95.54,331.12 L95.29,332.60 L95.04,334.08 L94.79,335.56 L94.53,337.04 L94.27,338.52 L94.00,340.00" stroke="#72a80c"/>
<path d="M107.90,20.00 L107.87,21.49 L107.85,22.99 L107.82,24.48 L107.80,25.98 L107.77,27.47 L107.75,28.97 L107.73,30.46 L107.71,31.96 L107.69,33.46 L107.68,34.95 L107.66,36.45 L107.64,37.94 L107.63,39.44 L107.62,40.94 L107.60,42.43 L107.59,43.93 L107.58,45.43 L107.57,46.92 L107.56,48.42 L107.55,49.92 L107.54,51.42 L107.54,52.91 L107.53,54.41 L107.52,55.91 L107.52,57.41 L107.51,58.90 L107.51,60.40 L107.51,61.90 L107.50,63.40 L107.50,64.90 L107.50,66.39 L107.50,67.89 L107.50,69.39 L107.50,70.89 L107.50,72.39 L107.50,73.89 L107.50,75.39 L107.50,76.89 L107.51,78.39 L107.51,79.88 L107.51,81.38 L107.51,82.88 L107.52,84.38 L107.52,85.88 L107.53,87.38 L107.53,88.88 L107.53,90.38 L107.54,91.88 L107.54,93.38 L107.55,94.88 L107.55,96.38 L107.56,97.88 L107.56,99.38 L107.57,100.88 L107.57,102.38 L107.58,103.88 L107.59,105.38 L107.59,106.88 L107.60,108.38 L107.60,109.88 L107.61,111.38 L107.61,112.88 L107.62,114.38 L107.62,115.88 L107.62,117.39 L107.63,118.89 L107.63,120.39 L107.64,121.89 L107.64,123.39 L107.64,124.89 L107.65,126.39 L107.65,127.89 L107.65,129.39 L107.65,130.89 L107.65,132.39 L107.65,133.89 L107.65,135.39 L107.65,136.89 L107.65,138.39 L107.65,139.89 L107.65,141.40 L107.65,142.90 L107.65,144.40 L107.64,145.90 L107.64,147.40 L107.64,148.90 L107.63,150.40 L107.62,151.90 L107.62,153.40 L107.61,154.90 L107.60,156.40 L107.59,157.90 L107.58,159.40 L107.57,160.90 L107.56,162.40 L107.55,163.90 L107.54,165.40 L107.52,166.90 L107.51,168.40 L107.49,169.90 L107.48,171.40 L107.46,172.90 L107.44,174.40 L107.42,175.90 L107.40,177.40 L107.38,178.90 L107.35,180.40 L107.33,181.90 L107.31,183.40 L107.28,184.90 L107.25,186.40 L107.22,187.90 L107.19,189.40 L107.16,190.90 L107.13,192.40 L107.09,193.89 L107.06,195.39 L107.02,196.89 L106.99,198.39 L106.95,199.89 L106.91,201.39 L106.86,202.89 L106.82,204.38 L106.77,205.88 L106.73,207.38 L106.68,208.88 L106.63,210.38 L106.58,211.87 L106.53,213.37 L106.47,214.87 L106.42,216.37 L106.36,217.86 L106.30,219.36 L106.24,220.86 L106.18,222.35 L106.11,223.85 L106.05,225.35 L105.98,226.84 L105.91,228.34 L105.84,229.83 L105.77,231.33 L105.69,232.83 L105.61,234.32 L105.53,235.82 L105.45,237.31 L105.37,238.81 L105.29,240.30 L105.20,241.80 L105.11,243.29 L105.02,244.79 L104.93,246.28 L104.83,247.78 L104.74,249.27 L104.64,250.76 L104.54,252.26 L104.43,253.75 L104.33,255.24 L104.22,256.74 L104.11,258.23 L104.00,259.72 L103.88,261.22 L103.77,262.71 L103.65,264.20 L103.53,265.69 L103.40,267.19 L103.28,268.68 L103.15,270.17 L103.02,271.66 L102.88,273.15 L102.75,274.64 L102.61,276.13 L102.47,277.62 L102.32,279.11 L102.18,280.60 L102.03,282.09 L101.88,283.58 L101.72,285.07 L101.57,286.56 L101.41,288.05 L101.25,289.54 L101.08,291.03 L100.92,292.51 L100.75,294.00 L100.57,295.49 L100.40,296.98 L100.22,298.47 L100.04,299.95 L99.85,301.44 L99.67,302.93 L99.48,304.41 L99.29,305.90 L99.09,307.38 L98.89,308.87 L98.69,310.35 L98.49,311.84 L98.28,313.32 L98.07,314.81 L97.85,316.29 L97.64,317.78 L97.42,319.26 L97.19,320.74 L96.97,322.23 L96.74,323.71 L96.51,325.19 L96.27,326.67 L96.03,328.16 L95.79,329.64 L95.54,331.12 L95.29,332.60 L95.04,334.08 L94.79,335.56 L94.53,337.04 L94.27,338.52 L94.00,340.00" stroke="#000" stroke-dasharray="7.3 5.8" stroke-dashoffset="2.6"/>
<path d="M291.25,20.00 L291.17,21.49 L291.09,22.98 L291.02,24.47 L290.94,25.96 L290.87,27.46 L290.80,28.95 L290.73,30.44 L290.66,31.93 L290.59,33.42 L290.53,34.91 L290.46,36.41 L290.40,37.90 L290.33,39.39 L290.27,40.88 L290.21,42.38 L290.15,43.87 L290.10,45.36 L290.04,46.85 L289.98,48.35 L289.93,49.84 L289.87,51.33 L289.82,52.83 L289.77,54.32 L289.72,55.81 L289.67,57.31 L289.62,58.80 L289.57,60.29 L289.52,61.79 L289.48,63.28 L289.43,64.77 L289.39,66.27 L289.34,67.76 L289.30,69.25 L289.26,70.75 L289.21,72.24 L289.17,73.74 L289.13,75.23 L289.09,76.73 L289.06,78.22 L289.02,79.71 L288.98,81.21 L288.94,82.70 L288.91,84.20 L288.87,85.69 L288.83,87.19 L288.80,88.68 L288.77,90.18 L288.73,91.67 L288.70,93.17 L288.66,94.66 L288.63,96.15 L288.60,97.65 L288.57,99.14 L288.54,100.64 L288.51,102.13 L288.47,103.63 L288.44,105.12 L288.41,106.62 L288.38,108.11 L288.35,109.61 L288.32,111.10 L288.29,112.60 L288.26,114.09 L288.24,115.59 L288.21,117.08 L288.18,118.58 L288.15,120.07 L288.12,121.57 L288.09,123.06 L288.06,124.56 L288.03,126.05 L288.00,127.55 L287.98,129.04 L287.95,130.54 L287.92,132.03 L287.89,133.53 L287.86,135.02 L287.83,136.52 L287.80,138.01 L287.77,139.51 L287.74,141.00 L287.71,142.50 L287.68,143.99 L287.65,145.49 L287.62,146.98 L287.59,148.48 L287.55,149.97 L287.52,151.47 L287.49,152.96 L287.46,154.46 L287.42,155.95 L287.39,157.44 L287.36,158.94 L287.32,160.43 L287.29,161.93 L287.25,163.42 L287.21,164.92 L287.18,166.41 L287.14,167.90 L287.10,169.40 L287.06,170.89 L287.02,172.39 L286.98,173.88 L286.94,175.37 L286.90,176.87 L286.86,178.36 L286.82,179.85 L286.77,181.35 L286.73,182.84 L286.68,184.33 L286.64,185.83 L286.59,187.32 L286.54,188.81 L286.49,190.31 L286.44,191.80 L286.39,193.29 L286.34,194.78 L286.29,196.28 L286.23,197.77 L286.18,199.26 L286.12,200.75 L286.07,202.25 L286.01,203.74 L285.95,205.23 L285.89,206.72 L285.82,208.21 L285.75,209.70 L285.68,211.19 L285.61,212.68 L285.53,214.17 L285.45,215.66 L285.36,217.15 L285.27,218.64 L285.17,220.13 L285.07,221.62 L284.96,223.11 L284.85,224.59 L284.72,226.08 L284.60,227.57 L284.46,229.05 L284.32,230.54 L284.17,232.02 L284.01,233.50 L283.85,234.99 L283.68,236.47 L283.50,237.95 L283.31,239.43 L283.11,240.91 L282.91,242.39 L282.70,243.86 L282.48,245.34 L282.25,246.81 L282.02,248.29 L281.77,249.76 L281.52,251.23 L281.26,252.70 L280.99,254.17 L280.71,255.64 L280.42,257.10 L280.12,258.56 L279.82,260.03 L279.50,261.49 L279.18,262.95 L278.84,264.40 L278.50,265.86 L278.14,267.31 L277.78,268.77 L277.41,270.21 L277.03,271.66 L276.63,273.11 L276.23,274.55 L275.82,275.99 L275.40,277.43 L274.96,278.86 L274.52,280.29 L274.06,281.72 L273.60,283.14 L273.12,284.56 L272.64,285.97 L272.14,287.38 L271.63,288.79 L271.11,290.19 L270.58,291.59 L270.04,292.98 L269.49,294.37 L268.92,295.76 L268.35,297.13 L267.76,298.51 L267.16,299.87 L266.55,301.24 L265.93,302.59 L265.29,303.94 L264.64,305.29 L263.98,306.62 L263.31,307.95 L262.63,309.28 L261.93,310.59 L261.22,311.90 L260.50,313.21 L259.77,314.50 L259.02,315.79 L258.26,317.07 L257.49,318.35 L256.70,319.61 L255.90,320.87 L255.09,322.12 L254.27,323.36 L253.43,324.59 L252.57,325.81 L251.71,327.03 L250.83,328.23 L249.93,329.43 L249.03,330.61 L248.10,331.79 L247.17,332.96 L246.22,334.12 L245.25,335.26 L244.27,336.40 L243.28,337.53 L242.27,338.64 L241.25,339.75" stroke="#72a80c"/>
<path d="M291.25,20.00 L291.17,21.49 L291.09,22.98 L291.02,24.47 L290.94,25.96 L290.87,27.46 L290.80,28.95 L290.73,30.44 L290.66,31.93 L290.59,33.42 L290.53,34.91 L290.46,36.41 L290.40,37.90 L290.33,39.39 L290.27,40.88 L290.21,42.38 L290.15,43.87 L290.10,45.36 L290.04,46.85 L289.98,48.35 L289.93,49.84 L289.87,51.33 L289.82,52.83 L289.77,54.32 L289.72,55.81 L289.67,57.31 L289.62,58.80 L289.57,60.29 L289.52,61.79 L289.48,63.28 L289.43,64.77 L289.39,66.27 L289.34,67.76 L289.30,69.25 L289.26,70.75 L289.21,72.24 L289.17,73.74 L289.13,75.23 L289.09,76.73 L289.06,78.22 L289.02,79.71 L288.98,81.21 L288.94,82.70 L288.91,84.20 L288.87,85.69 L288.83,87.19 L288.80,88.68 L288.77,90.18 L288.73,91.67 L288.70,93.17 L288.66,94.66 L288.63,96.15 L288.60,97.65 L288.57,99.14 L288.54,100.64 L288.51,102.13 L288.47,103.63 L288.44,105.12 L288.41,106.62 L288.38,108.11 L288.35,109.61 L288.32,111.10 L288.29,112.60 L288.26,114.09 L288.24,115.59 L288.21,117.08 L288.18,118.58 L288.15,120.07 L288.12,121.57 L288.09,123.06 L288.06,124.56 L288.03,126.05 L288.00,127.55 L287.98,129.04 L287.95,130.54 L287.92,132.03 L287.89,133.53 L287.86,135.02 L287.83,136.52 L287.80,138.01 L287.77,139.51 L287.74,141.00 L287.71,142.50 L287.68,143.99 L287.65,145.49 L287.62,146.98 L287.59,148.48 L287.55,149.97 L287.52,151.47 L287.49,152.96 L287.46,154.46 L287.42,155.95 L287.39,157.44 L287.36,158.94 L287.32,160.43 L287.29,161.93 L287.25,163.42 L287.21,164.92 L287.18,166.41 L287.14,167.90 L287.10,169.40 L287.06,170.89 L287.02,172.39 L286.98,173.88 L286.94,175.37 L286.90,176.87 L286.86,178.36 L286.82,179.85 L286.77,181.35 L286.73,182.84 L286.68,184.33 L286.64,185.83 L286.59,187.32 L286.54,188.81 L286.49,190.31 L286.44,191.80 L286.39,193.29 L286.34,194.78 L286.29,196.28 L286.23,197.77 L286.18,199.26 L286.12,200.75 L286.07,202.25 L286.01,203.74 L285.95,205.23 L285.89,206.72 L285.82,208.21 L285.75,209.70 L285.68,211.19 L285.61,212.68 L285.53,214.17 L285.45,215.66 L285.36,217.15 L285.27,218.64 L285.17,220.13 L285.07,221.62 L284.96,223.11 L284.85,224.59 L284.72,226.08 L284.60,227.57 L284.46,229.05 L284.32,230.54 L284.17,232.02 L284.01,233.50 L283.85,234.99 L283.68,236.47 L283.50,237.95 L283.31,239.43 L283.11,240.91 L282.91,242.39 L282.70,243.86 L282.48,245.34 L282.25,246.81 L282.02,248.29 L281.77,249.76 L281.52,251.23 L281.26,252.70 L280.99,254.17 L280.71,255.64 L280.42,257.10 L280.12,258.56 L279.82,260.03 L279.50,261.49 L279.18,262.95 L278.84,264.40 L278.50,265.86 L278.14,267.31 L277.78,268.77 L277.41,270.21 L277.03,271.66 L276.63,273.11 L276.23,274.55 L275.82,275.99 L275.40,277.43 L274.96,278.86 L274.52,280.29 L274.06,281.72 L273.60,283.14 L273.12,284.56 L272.64,285.97 L272.14,287.38 L271.63,288.79 L271.11,290.19 L270.58,291.59 L270.04,292.98 L269.49,294.37 L268.92,295.76 L268.35,297.13 L267.76,298.51 L267.16,299.87 L266.55,301.24 L265.93,302.59 L265.29,303.94 L264.64,305.29 L263.98,306.62 L263.31,307.95 L262.63,309.28 L261.93,310.59 L261.22,311.90 L260.50,313.21 L259.77,314.50 L259.02,315.79 L258.26,317.07 L257.49,318.35 L256.70,319.61 L255.90,320.87 L255.09,322.12 L254.27,323.36 L253.43,324.59 L252.57,325.81 L251.71,327.03 L250.83,328.23 L249.93,329.43 L249.03,330.61 L248.10,331.79 L247.17,332.96 L246.22,334.12 L245.25,335.26 L244.27,336.40 L243.28,337.53 L242.27,338.64 L241.25,339.75" stroke="#000" stroke-dasharray="7.3 5.8" stroke-dashoffset="0.5"/>
</g>
<path d="M344.5,43.7 H403" stroke="#000" stroke-width="2" stroke-dasharray="6.5 6"/>
<path d="M344.5,64.5 H403" stroke="#ff6a08" stroke-width="2"/>
<path d="M344.5,86.2 H403" stroke="#1a88ff" stroke-width="2"/>
<path d="M344.5,107.7 H403" stroke="#72a80c" stroke-width="2"/>
<g font-family="Liberation Sans, sans-serif" fill="#000" stroke="#000" stroke-width="0.25">
<text x="413.19" y="48.40" font-size="16" textLength="25.99" lengthAdjust="spacingAndGlyphs">Full</text>
<text x="448.48" y="48.40" font-size="16" textLength="59.27" lengthAdjust="spacingAndGlyphs">Physics</text>
<text x="413.51" y="69.00" font-size="16">1</text>
<text x="422.97" y="61.30" font-size="9" font-weight="bold" textLength="8.80" lengthAdjust="spacingAndGlyphs">st</text>
<text x="441.18" y="69.00" font-size="16" textLength="69.40" lengthAdjust="spacingAndGlyphs">Jacobian</text>
<text x="412.75" y="90.40" font-size="16">2</text>
<text x="422.79" y="83.80" font-size="9" font-weight="bold" textLength="12.18" lengthAdjust="spacingAndGlyphs">nd</text>
<text x="444.18" y="90.40" font-size="16" textLength="68.87" lengthAdjust="spacingAndGlyphs">Jacobian</text>
<text x="413.06" y="112.20" font-size="16">3</text>
<text x="422.74" y="105.90" font-size="9" font-weight="bold" textLength="11.09" lengthAdjust="spacingAndGlyphs">rd</text>
<text x="441.20" y="112.20" font-size="16" textLength="70.38" lengthAdjust="spacingAndGlyphs">Jacobian</text>
<text x="51.90" y="32.00" font-size="16.5" textLength="17.77" lengthAdjust="spacingAndGlyphs">10</text>
<text x="72.42" y="23.90" font-size="11.3" stroke-width="0.55">3</text>
<text x="51.90" y="187.10" font-size="16.5" textLength="17.77" lengthAdjust="spacingAndGlyphs">10</text>
<text x="71.44" y="178.70" font-size="11.3" stroke-width="0.55">4</text>
<text x="51.90" y="340.10" font-size="16.5" textLength="17.77" lengthAdjust="spacingAndGlyphs">10</text>
<text x="72.11" y="332.10" font-size="11.3" stroke-width="0.55">5</text>
<text x="0.00" y="0.00" font-size="16" textLength="76.39" lengthAdjust="spacingAndGlyphs" transform="translate(34.00,241.20) rotate(-90)">Pressure</text>
<text x="0.00" y="0.00" font-size="19" transform="translate(34.00,156.51) rotate(-90)">(</text>
<text x="0.00" y="0.00" font-size="16" textLength="19.76" lengthAdjust="spacingAndGlyphs" transform="translate(34.00,149.60) rotate(-90)">Pa</text>
<text x="0.00" y="0.00" font-size="19" transform="translate(34.00,126.70) rotate(-90)">)</text>
<text x="85.18" y="365.00" font-size="16">0</text>
<text x="200.90" y="365.00" font-size="16" textLength="30.57" lengthAdjust="spacingAndGlyphs">200</text>
<text x="327.37" y="365.00" font-size="16" textLength="30.72" lengthAdjust="spacingAndGlyphs">400</text>
<text x="453.87" y="365.00" font-size="16" textLength="30.75" lengthAdjust="spacingAndGlyphs">600</text>
<text x="251.80" y="386.10" font-size="16" textLength="33.33" lengthAdjust="spacingAndGlyphs">Flux</text>
<text x="293.50" y="386.10" font-size="18">(</text>
<text x="299.59" y="386.10" font-size="16">W</text>
<text x="324.76" y="386.10" font-size="16">m</text>
<text x="339.13" y="379.90" font-size="11.3" stroke-width="0.55" textLength="17.19" lengthAdjust="spacingAndGlyphs">−2</text>
<text x="356.98" y="386.10" font-size="18">)</text>
<path d="M155.00,276.50V264.80M154.10,265.60H161.80M155.00,271.30H159.30" stroke="#000" stroke-width="1.8" fill="none"/>
<path d="M163.70,265.70h6" stroke="#000" stroke-width="1.6" fill="none"/>
<text x="162.70" y="280.70" font-size="9.8" font-weight="bold">th</text>
<path d="M423.10,315.00V303.30M422.20,304.10H429.90M423.10,309.80H427.40" stroke="#000" stroke-width="1.8" fill="none"/>
<path d="M431.60,304.40h6M434.60,301.40v6" stroke="#000" stroke-width="1.6" fill="none"/>
<text x="430.80" y="319.20" font-size="9.8" font-weight="bold">th</text>
<path d="M107.60,314.90V303.20M106.70,304.00H114.40M107.60,309.70H111.90" stroke="#000" stroke-width="1.8" fill="none"/>
<path d="M116.10,304.30h6M119.10,301.30v6" stroke="#000" stroke-width="1.6" fill="none"/>
<circle cx="119.60" cy="315.55" r="3.6" fill="none" stroke="#000" stroke-width="1.6"/><circle cx="119.60" cy="315.70" r="1.25"/>
<path d="M255.90,276.10V264.40M255.00,265.20H262.70M255.90,270.90H260.20" stroke="#000" stroke-width="1.8" fill="none"/>
<path d="M264.60,265.30h6" stroke="#000" stroke-width="1.6" fill="none"/>
<circle cx="267.90" cy="276.75" r="3.6" fill="none" stroke="#000" stroke-width="1.6"/><circle cx="267.90" cy="276.90" r="1.25"/>
</g>
</svg></body></html>
